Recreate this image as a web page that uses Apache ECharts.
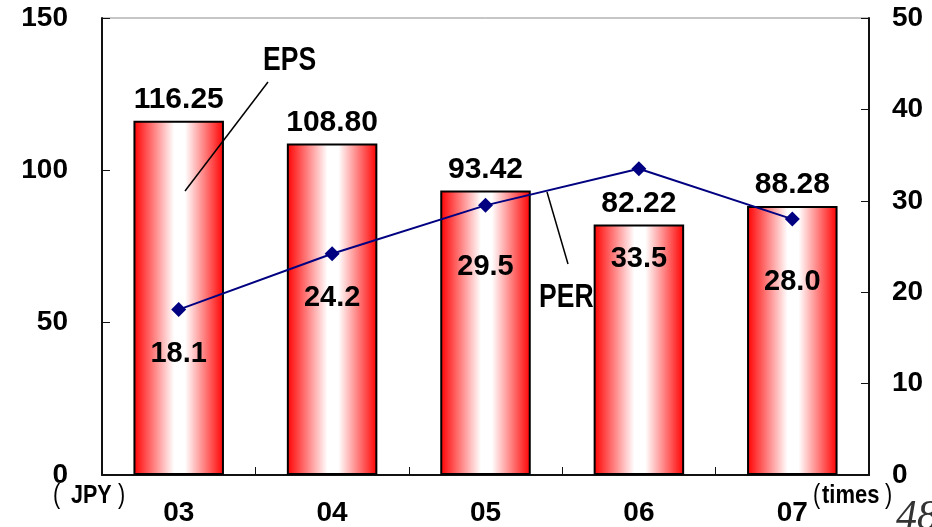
<!DOCTYPE html>
<html>
<head>
<meta charset="utf-8">
<script src="https://cdn.jsdelivr.net/npm/echarts@6/dist/echarts.min.js"></script>
<style>
  html, body { margin: 0; padding: 0; background: #fff; }
  #chart { width: 932px; height: 527px; }
</style>
</head>
<body>
<div id="chart"></div>
<script>
// Fiscal years on the category axis
const years = ['03', '04', '05', '06', '07'];
// Earnings per share (JPY), left axis
const eps = [116.25, 108.80, 93.42, 82.22, 88.28];
// Price/earnings ratio (times), right axis
const per = [18.1, 24.2, 29.5, 33.5, 28.0];
// Axis tick labels
const epsTicks = [0, 50, 100, 150];
const perTicks = [0, 10, 20, 30, 40, 50];

// Gap between each PER marker and its value label, so labels clear the bar tops
const perLabelGap = [22, 22, 40, 68, 41];

const NUM_FONT = '"Liberation Sans", Arial, sans-serif';

const chart = echarts.init(document.getElementById('chart'));

const barFill = {
  type: 'linear', x: 0, y: 0, x2: 1, y2: 0,
  colorStops: [
    { offset: 0, color: '#ff0000' },
    { offset: 0.45, color: '#ffffff' },
    { offset: 0.57, color: '#ffffff' },
    { offset: 1, color: '#ff0000' }
  ]
};

const perData = per.map((v, i) => ({
  value: v,
  label: { distance: perLabelGap[i] }
}));

// Condensed-looking caption text (horizontally squeezed)
function caption(x, y, text, size, squeeze, weight) {
  return {
    type: 'text', z: 100, x: x, y: y, scaleX: squeeze,
    style: {
      text: text, font: (weight || 'bold') + ' ' + size + 'px ' + NUM_FONT,
      fill: '#000', verticalAlign: 'top'
    }
  };
}

chart.setOption({
  animation: false,
  backgroundColor: '#ffffff',
  grid: {
    left: 102, right: 63, top: 18, bottom: 52,
    show: true, borderColor: '#8c8c8c', borderWidth: 1, backgroundColor: 'transparent'
  },
  xAxis: {
    type: 'category',
    data: years,
    axisLine: { lineStyle: { color: '#111', width: 2 } },
    axisTick: { show: true, inside: true, length: 8, lineStyle: { color: '#111' } },
    axisLabel: {
      color: '#000', fontFamily: NUM_FONT, fontWeight: 'bold', fontSize: 28, margin: 24
    }
  },
  yAxis: [
    {
      type: 'value', min: epsTicks[0], max: epsTicks[epsTicks.length - 1], interval: 50,
      axisLine: { show: true, lineStyle: { color: '#111', width: 2 } },
      axisTick: { show: true, inside: true, length: 8, lineStyle: { color: '#111' } },
      splitLine: { show: false },
      axisLabel: {
        color: '#000', fontFamily: NUM_FONT, fontWeight: 'bold', fontSize: 28, margin: 34
      }
    },
    {
      type: 'value', min: perTicks[0], max: perTicks[perTicks.length - 1], interval: 10,
      position: 'right',
      axisLine: { show: true, lineStyle: { color: '#111', width: 2 } },
      axisTick: { show: true, inside: true, length: 8, lineStyle: { color: '#111' } },
      splitLine: { show: false },
      axisLabel: {
        color: '#000', fontFamily: NUM_FONT, fontWeight: 'bold', fontSize: 28, margin: 23
      }
    }
  ],
  series: [
    {
      name: 'EPS',
      type: 'bar',
      data: eps,
      barWidth: '59%',
      itemStyle: { color: barFill, borderColor: '#000', borderWidth: 2 },
      label: {
        show: true, position: 'top', distance: 6,
        formatter: p => p.value.toFixed(2),
        color: '#000', fontFamily: NUM_FONT, fontWeight: 'bold', fontSize: 30
      },
      z: 2
    },
    {
      name: 'PER',
      type: 'line',
      yAxisIndex: 1,
      data: perData,
      symbol: 'diamond',
      symbolSize: 15,
      lineStyle: { color: '#000080', width: 2 },
      itemStyle: { color: '#000080' },
      label: {
        show: true, position: 'bottom',
        formatter: p => p.value.toFixed(1),
        color: '#000', fontFamily: NUM_FONT, fontWeight: 'bold', fontSize: 29
      },
      z: 3
    }
  ],
  graphic: [
    // Series callouts with leader lines
    caption(263, 44, 'EPS', 34, 0.78),
    { type: 'line', z: 100, shape: { x1: 268, y1: 82, x2: 185, y2: 191 }, style: { stroke: '#000', lineWidth: 1.5 } },
    caption(539, 281, 'PER', 34, 0.78),
    { type: 'line', z: 100, shape: { x1: 547, y1: 192, x2: 568, y2: 264 }, style: { stroke: '#000', lineWidth: 1.5 } },
    // Unit captions, with thin tall parentheses
    caption(53, 482, '(', 27, 0.8, 'normal'),
    caption(71, 484, 'JPY', 25, 0.86),
    caption(118, 482, ')', 27, 0.8, 'normal'),
    caption(813, 482, '(', 27, 0.8, 'normal'),
    caption(822, 484, 'times', 25, 0.88),
    caption(885, 482, ')', 27, 0.8, 'normal'),
    // Page number
    { type: 'text', z: 100, x: 896, y: 497, style: { text: '48', font: 'italic 42px "Liberation Serif", serif', fill: '#333', verticalAlign: 'top' } }
  ]
});
</script>
</body>
</html>
